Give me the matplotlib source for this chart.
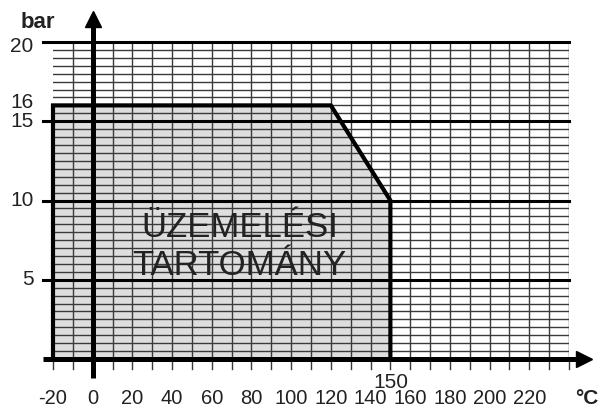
import numpy as np
import matplotlib
matplotlib.use("Agg")
import matplotlib.pyplot as plt

plt.rcParams['font.family'] = ['Liberation Sans', 'DejaVu Sans']

# operating range outline (temperature °C, pressure bar)
range_t = [-20, -20, 120, 150, 150]
range_p = [0, 16, 16, 10, 0]

x_ticks = [-20, 0, 20, 40, 60, 80, 100, 120, 140, 160, 180, 200, 220]
x_extra = 150
y_ticks = [5, 10, 15, 20]
y_extra = 16
area_lines = ["ÜZEMELÉSI", "TARTOMÁNY"]

W, H = 606, 409
fig = plt.figure(figsize=(W / 100, H / 100), dpi=100)
# axes box: -20..240 °C -> px 53..569, 0..20 bar -> px 359..42
ax = fig.add_axes([53 / W, (H - 359) / H, (569 - 53) / W, (359 - 42) / H])
ax.set_xlim(-20, 240)
ax.set_ylim(0, 20)
ax.axis("off")

grid_c = "#3a3a3a"
lab_c = "#222222"
# minor grid
for t in np.arange(-10, 241, 10):
    ax.plot([t, t], [0, 20], color=grid_c, lw=1.0, zorder=2)
for p in np.arange(0.5, 20, 0.5):
    ax.plot([-20, 240], [p, p], color=grid_c, lw=1.0, zorder=2)

# shaded area
ax.fill(range_t, range_p, color="#dedede", zorder=1)
ax.plot(range_t, range_p, color="black", lw=3.0, zorder=4,
        solid_joinstyle="miter", clip_on=False)

# major horizontal lines with left ticks
for p in y_ticks:
    ax.plot([-25, 240], [p, p], color="black", lw=2.2, zorder=3, clip_on=False)
    ax.text(-29.7, p - (0.3 if p == 20 else 0), str(p), ha="right", va="center",
            fontsize=15, color=lab_c)
ax.text(-29.7, y_extra + 0.2, str(y_extra), ha="right", va="center",
        fontsize=15, color=lab_c)

# x ticks below axis
for t in np.arange(-20, 241, 10):
    ax.plot([t, t], [0, -0.6], color=grid_c, lw=1.0, zorder=2, clip_on=False)
for t in x_ticks:
    ax.text(t, -2.87, str(t), ha="center", va="baseline", fontsize=14.5,
            color=lab_c)
ax.text(x_extra, -1.5, str(x_extra), ha="center", va="center",
        fontsize=15, color=lab_c)

# axes with arrows
ax.plot([-25, 246], [0, 0], color="black", lw=3.6, zorder=5, clip_on=False,
        solid_capstyle="butt")
ax.plot(247.7, 0, marker=">", ms=12, color="black", zorder=5, clip_on=False)
ax.plot([0, 0], [-1.2, 21.1], color="black", lw=3.6, zorder=5, clip_on=False,
        solid_capstyle="butt")
ax.plot(0, 21.48, marker="^", ms=11, color="black", zorder=5, clip_on=False)

ax.text(-27.7, 21.2, "bar", ha="center", va="center", fontsize=16,
        fontweight="bold", color=lab_c)
ax.text(249, -2.87, "°C", ha="center", va="baseline", fontsize=15,
        fontweight="bold", color=lab_c)

for line, base in zip(area_lines, [7.70, 5.30]):
    ax.text(74, base, line, ha="center", va="baseline", fontsize=25,
            color=lab_c, zorder=6)

fig.savefig("out.png", dpi=100)
